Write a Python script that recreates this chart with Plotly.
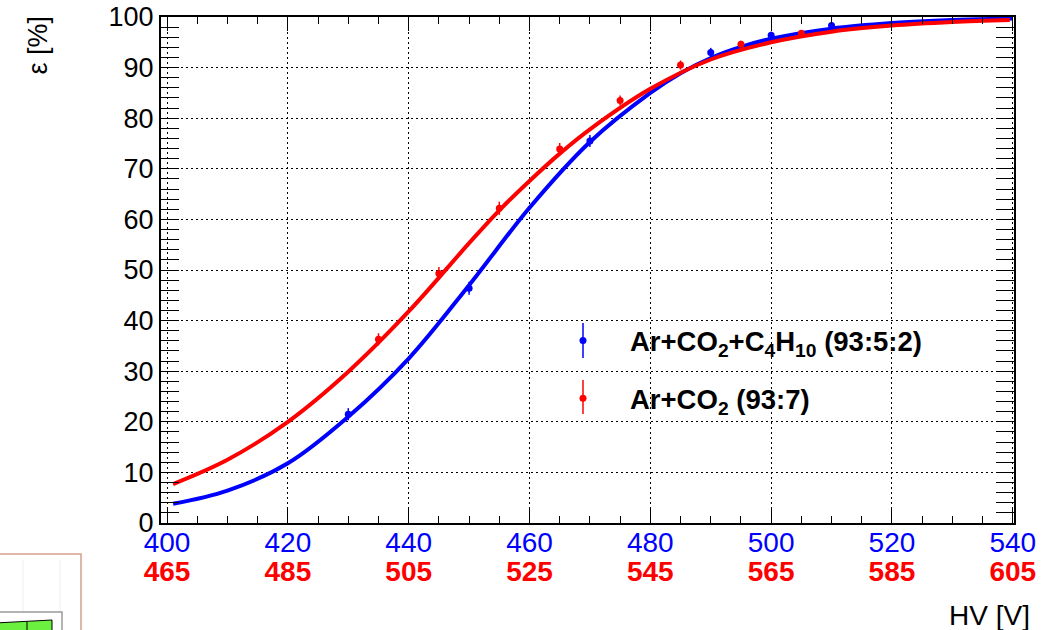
import plotly.graph_objects as go

# Efficiency vs. high voltage for two gas mixtures
# Ar+CO2+C4H10 (93:5:2) -- measured on the blue HV scale
hv_iso = [430, 450, 470, 490, 500, 510]
eff_iso = [21.5, 46.4, 75.5, 93.0, 96.4, 98.3]
err_iso = [1.2, 1.3, 1.2, 0.9, 0.7, 0.5]

# Ar+CO2 (93:7) -- measured on the red HV scale
hv_co2 = [500, 510, 520, 530, 540, 550, 560, 570]
eff_co2 = [36.3, 49.3, 62.2, 73.9, 83.5, 90.5, 94.6, 96.8]
err_co2 = [1.2, 1.3, 1.3, 1.2, 1.0, 0.9, 0.7, 0.6]

# Fitted efficiency curves, sampled along each HV scale
fit_hv_iso = [401, 410, 420, 430, 440, 450, 460, 470, 480, 485, 490, 495, 500, 510, 520, 530, 540]
fit_eff_iso = [3.8, 6.4, 11.8, 21.0, 32.5, 47.0, 62.3, 75.3, 85.0, 88.9, 91.9, 94.1, 95.7, 97.7, 98.8, 99.4, 99.7]
fit_hv_co2 = [466, 475, 485, 495, 505, 515, 520, 525, 530, 535, 545, 555, 565, 575, 585, 595, 604.5]
fit_eff_co2 = [7.7, 12.5, 20.0, 29.9, 41.8, 55.3, 61.8, 67.6, 73.0, 77.8, 85.8, 91.6, 95.0, 97.1, 98.3, 99.0, 99.4]

# Axis ticks
ticks_iso = [400, 420, 440, 460, 480, 500, 520, 540]
ticks_co2 = [465, 485, 505, 525, 545, 565, 585, 605]
eff_ticks = [0, 10, 20, 30, 40, 50, 60, 70, 80, 90, 100]

BLUE = "#0000ff"
RED = "#ff0000"
FONT = "Liberation Sans, Arial, Helvetica, sans-serif"

fig = go.Figure()

fig.add_trace(go.Scatter(
    x=hv_iso, y=eff_iso, mode="markers",
    error_y=dict(type="data", array=err_iso, color=BLUE, thickness=1.5, width=0),
    marker=dict(color=BLUE, size=7),
    name="<b>Ar+CO<sub>2</sub>+C<sub>4</sub>H<sub>10</sub> (93:5:2)</b>",
    legendgroup="iso", xaxis="x", yaxis="y",
))
fig.add_trace(go.Scatter(
    x=fit_hv_iso, y=fit_eff_iso, mode="lines", line=dict(color=BLUE, width=4, shape="spline"),
    showlegend=False, hoverinfo="skip", xaxis="x", yaxis="y",
))
fig.add_trace(go.Scatter(
    x=hv_co2, y=eff_co2, mode="markers",
    error_y=dict(type="data", array=err_co2, color=RED, thickness=1.5, width=0),
    marker=dict(color=RED, size=7),
    name="<b>Ar+CO<sub>2</sub> (93:7)</b>",
    legendgroup="co2", xaxis="x2", yaxis="y",
))
fig.add_trace(go.Scatter(
    x=fit_hv_co2, y=fit_eff_co2, mode="lines", line=dict(color=RED, width=4, shape="spline"),
    showlegend=False, hoverinfo="skip", xaxis="x2", yaxis="y",
))

# plot-area geometry (pixels) used for the decorations placed in paper space
L, R, T, B = 161, 1014, 17, 523
W, H = 1060, 630


def px(xp):
    return (xp - L) / (R - L)


def py(yp):
    return (B - yp) / (B - T)


x_lo, x_hi = 399.0, 540.2
offset = ticks_co2[0] - ticks_iso[0]


def legend_bar(xp, y_top, y_bot, color):
    # vertical error-bar stroke drawn through a legend symbol
    return dict(type="line", xref="paper", yref="paper", x0=px(xp), x1=px(xp),
                y0=py(y_bot), y1=py(y_top), line=dict(color=color, width=1.5), layer="above")


fig.update_layout(
    width=W, height=H, autosize=False,
    margin=dict(l=L, r=W - R, t=T, b=H - B, autoexpand=False),
    paper_bgcolor="white", plot_bgcolor="white",
    font=dict(family=FONT, color="black"),
    showlegend=True,
    legend=dict(
        x=px(536), y=py(316), xanchor="left", yanchor="top",
        bgcolor="rgba(0,0,0,0)", font=dict(size=27.5, family=FONT),
        itemwidth=84, tracegroupgap=19,
    ),
    xaxis=dict(
        range=[x_lo, x_hi], tickvals=ticks_iso, ticktext=[str(t) for t in ticks_iso],
        tickfont=dict(size=28, color=BLUE, family=FONT),
        ticks="inside", ticklen=14, tickwidth=1, tickcolor="black",
        minor=dict(dtick=5, tick0=400, ticks="inside", ticklen=7, tickcolor="black", showgrid=False),
        showline=True, linecolor="black", linewidth=2, mirror="allticks",
        showgrid=True, gridcolor="black", gridwidth=1, griddash="2px,3px",
        zeroline=False, automargin=False, ticklabelstandoff=-7,
    ),
    xaxis2=dict(
        range=[x_lo + offset, x_hi + offset], overlaying="x", side="bottom", anchor="y",
        tickvals=ticks_co2, ticktext=["<b>%d</b>" % t for t in ticks_co2],
        tickfont=dict(size=28, color=RED, family=FONT),
        ticks="", showline=False, showgrid=False, zeroline=False,
        ticklabelstandoff=29, automargin=False,
    ),
    yaxis=dict(
        range=[0, 100], tickvals=eff_ticks,
        tickfont=dict(size=27, color="black", family=FONT),
        ticks="inside", ticklen=18, tickwidth=1, tickcolor="black",
        minor=dict(dtick=2, ticks="inside", ticklen=7, tickcolor="black", showgrid=False),
        showline=True, linecolor="black", linewidth=2, mirror="allticks",
        showgrid=True, gridcolor="black", gridwidth=1, griddash="2px,3px",
        zeroline=False, automargin=False,
    ),
    annotations=[
        dict(text="HV [V]", xref="paper", yref="paper", x=px(1032), y=py(598),
             xanchor="right", yanchor="top", showarrow=False,
             font=dict(size=28, family=FONT, color="black")),
        dict(text="ε [%]", xref="paper", yref="paper", x=px(37), y=py(14),
             xanchor="center", yanchor="top", textangle=-90, showarrow=False,
             font=dict(size=27, family=FONT, color="black")),
    ],
    shapes=[
        legend_bar(583, 323, 358, BLUE),
        legend_bar(583, 380, 414, RED),
        # neighbouring panel peeking in at the lower-left corner
        dict(type="rect", xref="paper", yref="paper", x0=px(-5), x1=px(81), y0=py(640), y1=py(554),
             line=dict(color="#d4a090", width=1.5), fillcolor="white", layer="above"),
        dict(type="line", xref="paper", yref="paper", x0=px(23), x1=px(23), y0=py(640), y1=py(560),
             line=dict(color="#eeeeee", width=1), layer="above"),
        dict(type="line", xref="paper", yref="paper", x0=px(60), x1=px(60), y0=py(640), y1=py(560),
             line=dict(color="#eeeeee", width=1), layer="above"),
        dict(type="rect", xref="paper", yref="paper", x0=px(-5), x1=px(62), y0=py(640), y1=py(612),
             line=dict(color="#9a9a9a", width=1.5), fillcolor="white", layer="above"),
        dict(type="path", xref="paper", yref="paper",
             path="M %f,%f L %f,%f L %f,%f L %f,%f Z" % (px(-5), py(623), px(52), py(620),
                                                       px(52), py(640), px(-5), py(640)),
             line=dict(color="black", width=1), fillcolor="#6cf040", layer="above"),
        dict(type="line", xref="paper", yref="paper", x0=px(27), x1=px(27), y0=py(640), y1=py(621.5),
             line=dict(color="black", width=1), layer="above"),
    ],
)

fig.write_html("out.html")
